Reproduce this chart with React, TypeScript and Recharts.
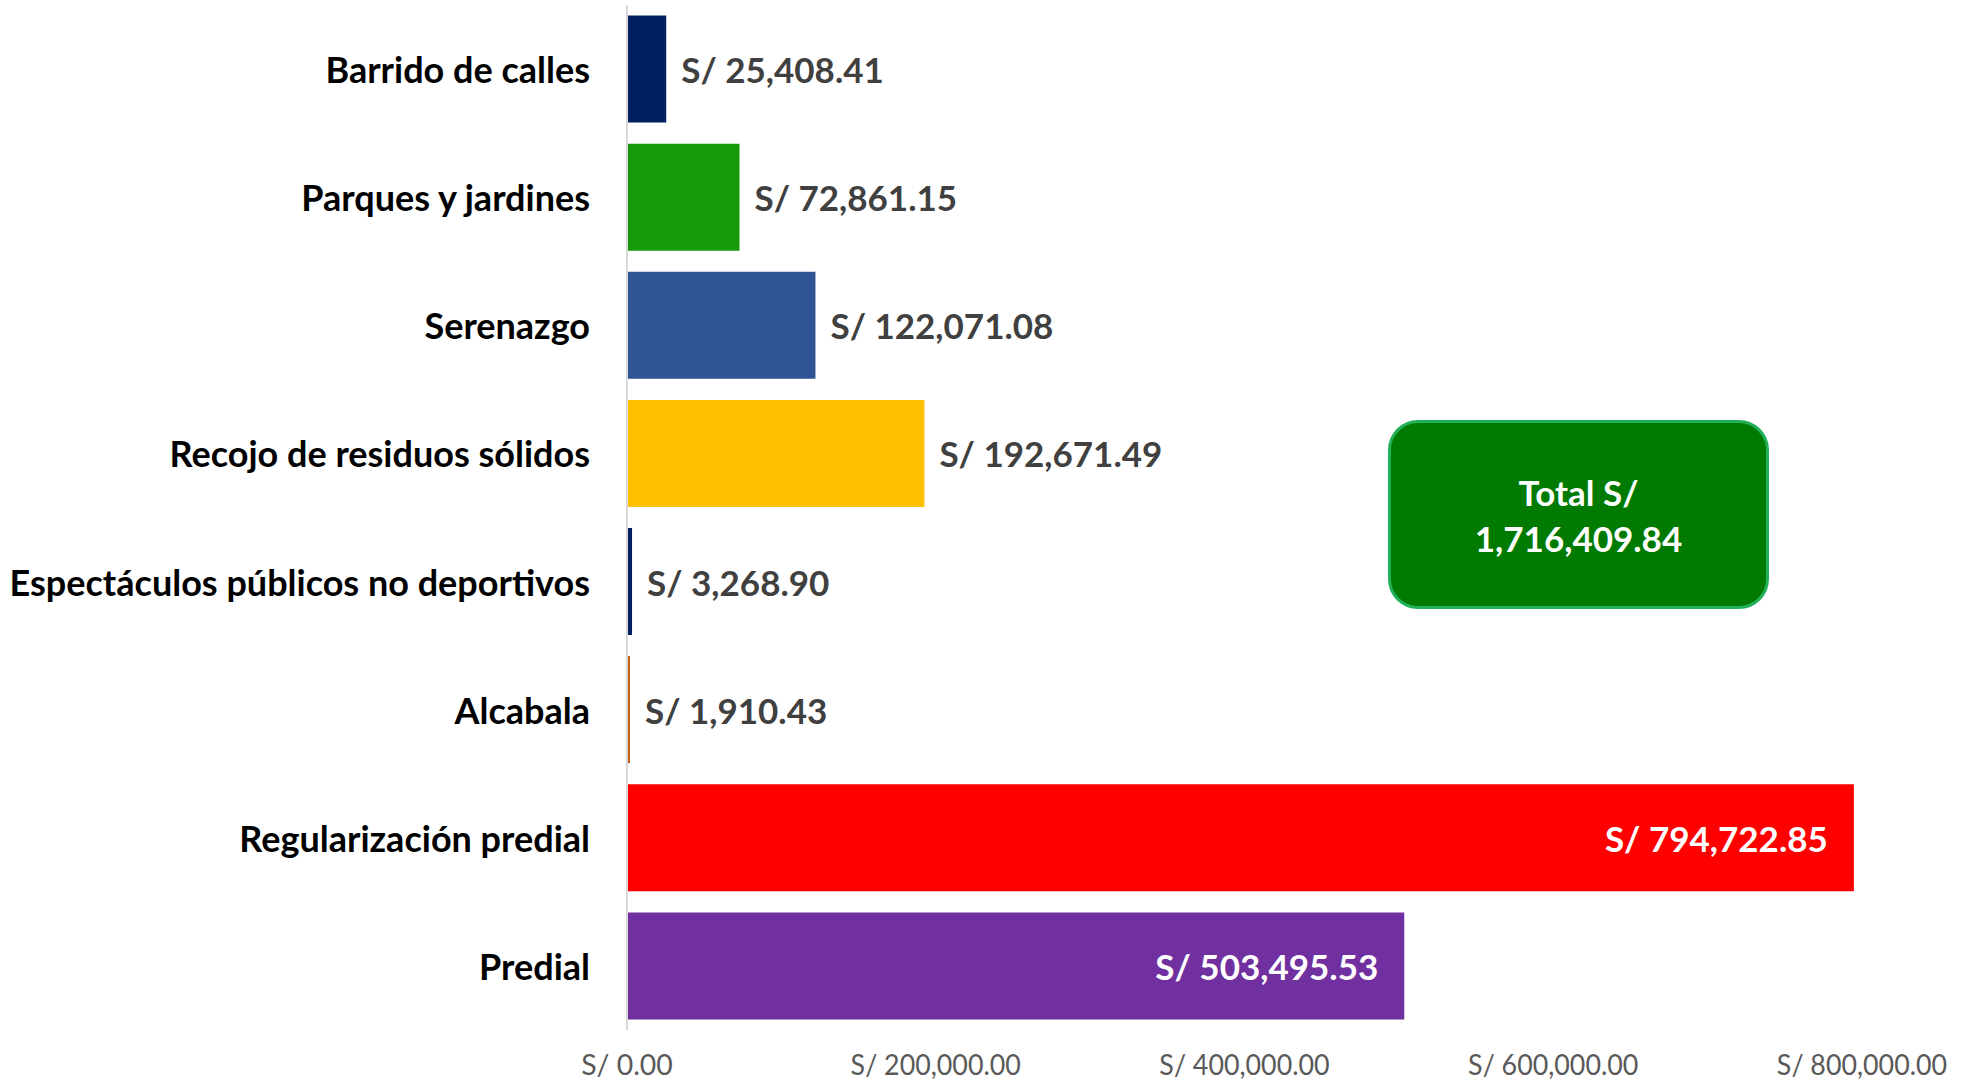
import { Bar, BarChart, Cell, LabelList, XAxis, YAxis } from "recharts";

const categories = [
  "Barrido de calles",
  "Parques y jardines",
  "Serenazgo",
  "Recojo de residuos sólidos",
  "Espectáculos públicos no deportivos",
  "Alcabala",
  "Regularización predial",
  "Predial",
];

const amounts = [25408.41, 72861.15, 122071.08, 192671.49, 3268.9, 1910.43, 794722.85, 503495.53];

const barColors = ["#002060", "#169A0B", "#2F5597", "#FFC000", "#002060", "#C55A11", "#FF0000", "#7030A0"];

const xTicks = [0, 200000, 400000, 600000, 800000];

const totalLabel = "Total S/";
const totalAmount = 1716409.84;

const rows = categories.map((name, i) => ({ name, value: amounts[i] }));

const fmt = (v: number) =>
  v.toLocaleString("en-US", { minimumFractionDigits: 2, maximumFractionDigits: 2 });

const FONT = "Lato, 'Open Sans', sans-serif";

function CategoryTick({ x, y, payload }: any) {
  return (
    <text
      x={x}
      y={y}
      textAnchor="end"
      dominantBaseline="central"
      fontFamily={FONT}
      fontWeight={700}
      fontSize={36}
      fill="#000"
    >
      {payload.value}
    </text>
  );
}

function MoneyTick({ x, y, payload }: any) {
  const label = `S/ ${fmt(payload.value)}`;
  return (
    <text
      x={x}
      y={y + 45}
      textAnchor="middle"
      fontFamily={FONT}
      fontSize={29}
      fill="#595959"
      textLength={label.length * 13.1}
      lengthAdjust="spacingAndGlyphs"
    >
      {label}
    </text>
  );
}

function ValueLabel({ x, y, width, height, value }: any) {
  const text = `S/ ${fmt(value)}`;
  const inside = width > 600;
  return (
    <text
      x={inside ? x + width - 26 : x + width + 15}
      y={y + height / 2}
      textAnchor={inside ? "end" : "start"}
      dominantBaseline="central"
      fontFamily={FONT}
      fontWeight={700}
      fontSize={35}
      fill={inside ? "#fff" : "#404040"}
    >
      {text}
    </text>
  );
}

export default function App() {
  return (
    <div style={{ position: "absolute", left: 0, top: 0, width: 1967, height: 1082, background: "#fff" }}>
      <BarChart
        width={1967}
        height={1082}
        data={rows}
        layout="vertical"
        margin={{ top: 5, right: 105, bottom: 0, left: 0 }}
        barCategoryGap="8.2%"
      >
        <XAxis
          type="number"
          domain={[0, 800000]}
          ticks={xTicks}
          axisLine={false}
          tickLine={false}
          tickSize={0}
          tickMargin={0}
          height={52}
          tick={<MoneyTick />}
          interval={0}
        />
        <YAxis
          type="category"
          dataKey="name"
          width={627}
          axisLine={{ stroke: "#d9d9d9", strokeWidth: 2 }}
          tickLine={false}
          tickSize={0}
          tickMargin={37}
          tick={<CategoryTick />}
          interval={0}
        />
        <Bar dataKey="value" isAnimationActive={false}>
          {rows.map((r, i) => (
            <Cell key={r.name} fill={barColors[i]} />
          ))}
          <LabelList dataKey="value" content={<ValueLabel />} />
        </Bar>
      </BarChart>
      <div
        style={{
          position: "absolute",
          left: 1388,
          top: 420,
          width: 375,
          height: 183,
          background: "#007A00",
          border: "3px solid #22B05A",
          borderRadius: 30,
          display: "flex",
          flexDirection: "column",
          alignItems: "center",
          justifyContent: "center",
          color: "#fff",
          fontFamily: FONT,
          fontWeight: 700,
          fontSize: 35,
          lineHeight: "46px",
          textAlign: "center",
        }}
      >
        <div>{totalLabel}</div>
        <div>{fmt(totalAmount)}</div>
      </div>
    </div>
  );
}
